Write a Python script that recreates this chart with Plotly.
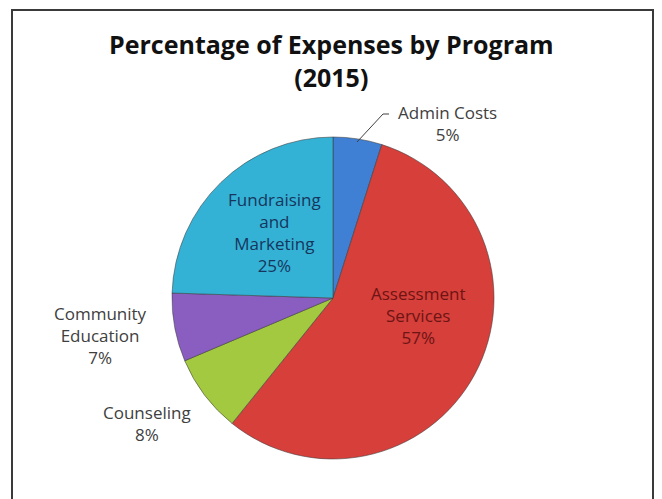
import plotly.graph_objects as go

# ---- data ----
programs = ["Admin Costs", "Assessment Services", "Counseling",
            "Community Education", "Fundraising and Marketing"]
label_text = ["Admin Costs", "Assessment<br>Services", "Counseling",
              "Community<br>Education", "Fundraising<br>and<br>Marketing"]
values = [5, 57, 8, 7, 25]
pct_labels = ["5%", "57%", "8%", "7%", "25%"]

colors = ["#3f7fd4", "#d63f3a", "#a2c93f", "#8a5ec0", "#33b2d6"]
text_colors = ["#404040", "#6e1414", "#404040", "#404040", "#17365d"]

W, H = 662, 499
OFF = 8  # page body margin offset

def px(x):
    return (x - OFF) / W

def py(y):
    return 1 - (y - OFF) / H

# pie placement (reference pixels)
cx, cy, r = 333, 298, 161

texts = [f"{t}<br>{p}" for t, p in zip(label_text, pct_labels)]

fig = go.Figure(go.Pie(
    labels=programs,
    values=values,
    sort=False,
    direction="clockwise",
    rotation=0,
    textinfo="none",
    marker=dict(colors=colors, line=dict(color="rgba(60,60,60,0.55)", width=1)),
    domain=dict(x=[px(cx - r), px(cx + r)], y=[py(cy + r), py(cy - r)]),
    showlegend=False,
    hoverinfo="label+percent",
))

# label block centres (reference pixels)
label_pos = [(447, 123), (418, 315), (147, 423), (100, 335), (274, 232)]
for i, (x, y) in enumerate(label_pos):
    fig.add_annotation(x=px(x), y=py(y), xref="paper", yref="paper",
                       text=texts[i], showarrow=False,
                       font=dict(family="Open Sans", size=17, color=text_colors[i]),
                       xanchor="center", yanchor="middle", align="center")

# leader line for Admin Costs
fig.add_shape(type="path", xref="paper", yref="paper",
              path=f"M {px(357)} {py(142)} L {px(383)} {py(114)} L {px(389)} {py(114)}",
              line=dict(color="#404040", width=1))

# chart frame
fig.add_shape(type="rect", xref="paper", yref="paper",
              x0=px(12), x1=px(653), y0=py(530), y1=py(10),
              line=dict(color="#3a3a3a", width=2), fillcolor="rgba(0,0,0,0)")

# title
fig.add_annotation(x=px(331), y=py(60), xref="paper", yref="paper",
                   text="<b>Percentage of Expenses by Program<br>(2015)</b>",
                   showarrow=False, xanchor="center", yanchor="middle",
                   align="center",
                   font=dict(family="Open Sans", size=25, color="#111111"))

fig.update_layout(
    width=W, height=H,
    margin=dict(l=0, r=0, t=0, b=0),
    paper_bgcolor="white",
)

fig.write_html("out.html")
